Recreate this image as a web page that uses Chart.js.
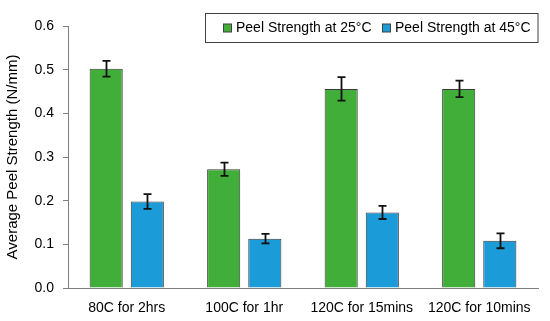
<!DOCTYPE html>
<html><head><meta charset="utf-8">
<script src="https://cdn.jsdelivr.net/npm/chart.js@4"></script>
<style>html,body{margin:0;padding:0;background:#fff}#wrap{width:550px;height:321px}</style>
</head><body><div id="wrap"><canvas id="c"></canvas></div>
<script>
const categories = ["80C for 2hrs", "100C for 1hr", "120C for 15mins", "120C for 10mins"];
const seriesNames = ["Peel Strength at 25°C", "Peel Strength at 45°C"];
const peel25 = [0.502, 0.272, 0.456, 0.456];
const err25 = [0.018, 0.015, 0.027, 0.019];
const peel45 = [0.198, 0.113, 0.173, 0.108];
const err45 = [0.017, 0.011, 0.015, 0.017];
const yTicks = [0.0, 0.1, 0.2, 0.3, 0.4, 0.5, 0.6];
const yTitle = "Average Peel Strength (N/mm)";

const FONT = "'Liberation Sans', Arial, sans-serif";
const errors = [err25, err45];

const errorBars = {
  id: 'errorBars',
  afterDatasetsDraw(chart) {
    const ctx = chart.ctx, ys = chart.scales.y;
    ctx.save();
    ctx.strokeStyle = '#111';
    ctx.lineWidth = 1.8;
    chart.data.datasets.forEach((ds, i) => {
      const meta = chart.getDatasetMeta(i);
      meta.data.forEach((bar, j) => {
        const v = ds.data[j], e = errors[i][j];
        const x = Math.round(bar.x) + 0.5;
        const t = ys.getPixelForValue(v + e), b = ys.getPixelForValue(v - e);
        ctx.beginPath();
        ctx.moveTo(x, t); ctx.lineTo(x, b);
        ctx.moveTo(x - 4, t); ctx.lineTo(x + 4, t);
        ctx.moveTo(x - 4, b); ctx.lineTo(x + 4, b);
        ctx.stroke();
      });
    });
    ctx.restore();
  }
};

const boxLegend = {
  id: 'boxLegend',
  afterDraw(chart) {
    const ctx = chart.ctx;
    const ca = chart.chartArea;
    const right = ca.right, top = 13.5, h = 29, left = 205.5;
    ctx.save();
    ctx.fillStyle = '#fff';
    ctx.fillRect(left, top, right - left, h);
    ctx.strokeStyle = '#404040';
    ctx.lineWidth = 1;
    ctx.strokeRect(left, top, right - left, h);
    ctx.font = "14px " + FONT;
    ctx.textBaseline = 'middle';
    const cy = top + h / 2;
    const starts = [223, 382];
    chart.data.datasets.forEach((ds, i) => {
      const sx = starts[i];
      ctx.fillStyle = ds.backgroundColor;
      ctx.fillRect(sx + 0.5, cy - 4, 8, 8);
      ctx.strokeStyle = '#404040';
      ctx.strokeRect(sx + 0.5, cy - 4, 8, 8);
      ctx.fillStyle = '#000';
      ctx.fillText(ds.label, sx + 13, cy);
    });
    ctx.restore();
  }
};

new Chart(document.getElementById('c'), {
  type: 'bar',
  data: {
    labels: categories,
    datasets: [
      { label: seriesNames[0], data: peel25, backgroundColor: '#42AE3A', borderColor: '#3a3a3a', borderWidth: 1 },
      { label: seriesNames[1], data: peel45, backgroundColor: '#1B9BD7', borderColor: '#3a3a3a', borderWidth: 1 }
    ]
  },
  options: {
    responsive: true,
    maintainAspectRatio: false,
    animation: false,
    devicePixelRatio: 1,
    layout: { padding: { top: 26, right: 12, left: 4, bottom: 0 } },
    datasets: { bar: { categoryPercentage: 0.70, barPercentage: 0.805 } },
    plugins: { legend: { display: false }, tooltip: { enabled: false } },
    scales: {
      x: {
        grid: { display: false, drawTicks: false },
        border: { color: '#7f7f7f', width: 1 },
        ticks: { color: '#000', font: { family: FONT, size: 14 }, padding: 12, maxRotation: 0 },
        afterFit(s) { s.height = 33; }
      },
      y: {
        min: 0, max: 0.6,
        afterBuildTicks(s) { s.ticks = yTicks.map(v => ({ value: v })); },
        grid: { drawOnChartArea: false, drawTicks: true, tickLength: 5, color: '#7f7f7f' },
        border: { color: '#7f7f7f', width: 1 },
        ticks: { color: '#000', font: { family: FONT, size: 14 }, padding: 9,
          callback: v => Number(v).toFixed(1) },
        title: { display: true, text: yTitle, color: '#000', font: { family: FONT, size: 15 }, padding: { top: 0, bottom: 2 } },
        afterFit(s) { s.width = 64; }
      }
    }
  },
  plugins: [errorBars, boxLegend]
});
</script>
</body></html>
